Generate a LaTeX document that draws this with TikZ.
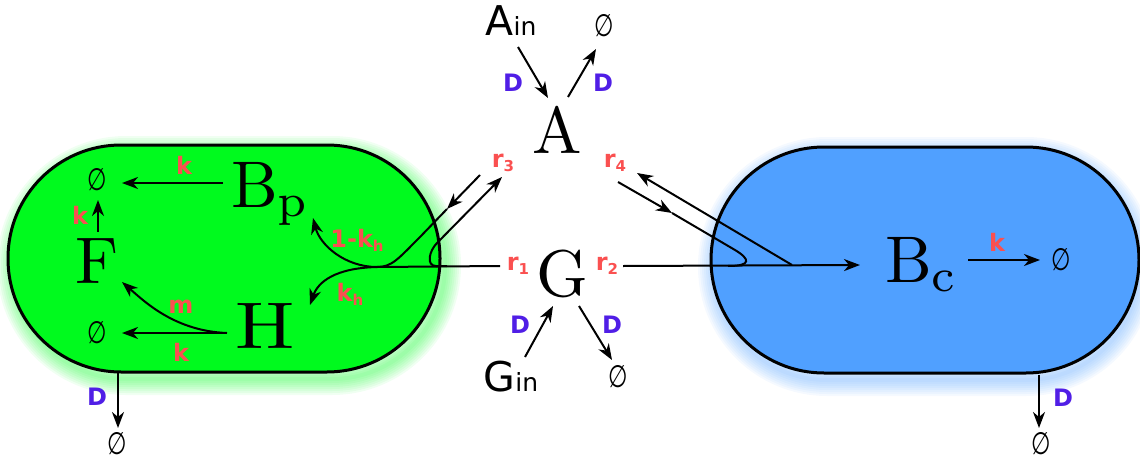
\documentclass[tikz,border=0pt]{standalone}
\usepackage{fontspec}
\newfontfamily\dejavu{DejaVu Sans}
\usetikzlibrary{arrows.meta}

\definecolor{cellgreen}{RGB}{0,250,30}
\definecolor{cellblue}{RGB}{80,160,255}
\definecolor{ratered}{RGB}{250,80,80}
\definecolor{diffpurple}{RGB}{80,30,230}

\newcommand{\lowsub}[1]{\raisebox{-4pt}{\fontsize{15}{15}\selectfont #1}}
\newcommand{\sink}{\scalebox{0.72}[1]{∅}}
\newcommand{\grand}[1]{\scalebox{6.6}{#1}}

\tikzset{
  big/.style={inner sep=0pt},
  species/.style={font=\dejavu\fontsize{41}{41}\selectfont, inner sep=0pt},
  nul/.style={font=\dejavu\fontsize{31}{31}\selectfont, inner sep=0pt},
  rate/.style={font=\dejavu\bfseries\fontsize{24}{24}\selectfont, text=ratered, inner sep=0pt},
  diff/.style={font=\dejavu\bfseries\fontsize{24}{24}\selectfont, text=diffpurple, inner sep=0pt},
  flow/.style={line width=2pt, -{Stealth[length=16pt,width=12pt,inset=5pt]}},
  track/.style={line width=2pt},
  cell/.style={line width=3pt, draw=black, rounded corners=113pt},
}

\begin{document}
\begin{tikzpicture}[x=1pt,y=-1pt]
  \useasboundingbox (0,0) rectangle (1140,463);

  % soft glow under the two compartments
  \foreach \w in {4,8,...,32} {
    \draw[cellgreen, line width=\w pt, opacity=0.06, rounded corners=113pt] (13,152) rectangle (445,379);
    \draw[cellblue, line width=\w pt, opacity=0.06, rounded corners=113pt] (714,153) rectangle (1139,380);
  }
  \draw[cell, fill=cellgreen] (8,145) rectangle (440,372);
  \draw[cell, fill=cellblue] (711,147) rectangle (1139,373);

  % outside species
  \node[species] (ain) at (511,21) {A{\fontsize{25}{25}\selectfont in}};
  \node[nul] (nulA) at (604,26) {\sink};
  \node[diff] (dA1) at (513,83) {D};
  \node[diff] (dA2) at (603,83) {D};
  \node[big, anchor=base] (A) at (557,153) {\grand{A}};
  \node[rate] (r3) at (503,163) {r\lowsub{3}};
  \node[rate] (r4) at (615,163) {r\lowsub{4}};
  \node[big, anchor=base] (G) at (562,296) {\grand{G}};
  \node[rate] (r1) at (518,266) {r\lowsub{1}};
  \node[rate] (r2) at (607,266) {r\lowsub{2}};
  \node[diff] (dG1) at (520,325) {D};
  \node[diff] (dG2) at (612,325) {D};
  \node[species] (gin) at (511,377) {G{\fontsize{25}{25}\selectfont in}};
  \node[nul] (nulG) at (618,377) {\sink};

  % green compartment
  \node[nul] (nul1) at (97,180) {\sink};
  \node[rate] (k1) at (184,165) {k};
  \node[big, anchor=base west] (Bp) at (231,207) {\grand{$\mathrm{B_p}$}};
  \node[rate] (k2) at (80,215) {k};
  \node[big, anchor=base] (F) at (97,283) {\grand{F}};
  \node[nul] (nul2) at (97,333) {\sink};
  \node[rate] (m) at (181,307) {m};
  \node[rate] (k3) at (181,352) {k};
  \node[big, anchor=base] (H) at (265,348) {\scalebox{7.9}[6.6]{H}};
  \node[rate] (kh1) at (357,240) {1-k\lowsub{h}};
  \node[rate] (kh2) at (350,294) {k\lowsub{h}};
  \node[diff] (dP) at (97,397) {D};
  \node[nul] (nul3) at (117,444) {\sink};

  % blue compartment
  \node[big, anchor=base west] (Bc) at (885,282) {\grand{$\mathrm{B_c}$}};
  \node[rate] (k4) at (997,242) {k};
  \node[nul] (nul4) at (1061,260) {\sink};
  \node[diff] (dC) at (1063,398) {D};
  \node[nul] (nul5) at (1041,444) {\sink};

  % end points of the connectors
  \coordinate (ainS) at (518,47);   \coordinate (aN1) at (548,98);
  \coordinate (aN2) at (568,97);    \coordinate (nulAS) at (596,49);
  \coordinate (ginN) at (525,357);  \coordinate (gS1) at (553,306);
  \coordinate (gS2) at (579,306);   \coordinate (nulGN) at (612,360);
  \coordinate (bpW) at (223,183);   \coordinate (nul1E) at (122,183);
  \coordinate (fN) at (98,232);     \coordinate (nul1S) at (98,200);
  \coordinate (hW) at (227,333);    \coordinate (nul2E) at (122,333);
  \coordinate (fSE) at (122,282);
  \coordinate (greenS) at (118,372); \coordinate (nul3N) at (118,428);
  \coordinate (bcE) at (968,260);   \coordinate (nul4W) at (1040,260);
  \coordinate (blueS) at (1039,375); \coordinate (nul5N) at (1039,428);
  % left junction
  \coordinate (r1W) at (500,266);   \coordinate (J) at (377,267);
  \coordinate (hTip) at (310,305);  \coordinate (bpTip) at (313,218);
  \coordinate (r3S) at (480,175);   \coordinate (r3M) at (447,209);
  \coordinate (r3B) at (420,237);
  \coordinate (hookL) at (447,266); \coordinate (r3Tip) at (502,177);
  % right junction
  \coordinate (r2E) at (623,266);   \coordinate (bcTip) at (860,265);
  \coordinate (joinR) at (792,265); \coordinate (r4Tip) at (637,173);
  \coordinate (r4S) at (618,182);   \coordinate (r4M) at (672,213);
  \coordinate (r4B) at (735,250);   \coordinate (hookR) at (728,266);

  % diffusion
  \draw[flow] (ainS) -- (aN1);
  \draw[flow] (aN2) -- (nulAS);
  \draw[flow] (ginN) -- (gS1);
  \draw[flow] (gS2) -- (nulGN);
  \draw[flow] (greenS) -- (nul3N);
  \draw[flow] (blueS) -- (nul5N);

  % reactions inside the compartments
  \draw[flow] (bpW) -- (nul1E);
  \draw[flow] (fN) -- (nul1S);
  \draw[flow] (hW) -- (nul2E);
  \draw[flow] (hW) .. controls (175,331) and (145,302) .. (fSE);
  \draw[flow] (bcE) -- (nul4W);

  % left tracks
  \draw[flow] (r1W) -- (J) .. controls (335,268) and (318,282) .. (hTip);
  \draw[flow] (r3S) -- (r3M);
  \draw[flow] (r3M) -- (r3B) .. controls (398,259) and (392,267) .. (J)
    .. controls (345,267) and (320,245) .. (bpTip);
  \draw[flow] (hookL) -- (436,266) .. controls (426,266) and (429,251) .. (437,243) -- (r3Tip);

  % right tracks
  \draw[flow] (r2E) -- (bcTip);
  \draw[flow] (joinR) -- (r4Tip);
  \draw[flow] (r4S) -- (r4M);
  \draw[track] (r4M) -- (r4B) .. controls (750,259) and (752,266) .. (hookR);
\end{tikzpicture}
\end{document}
